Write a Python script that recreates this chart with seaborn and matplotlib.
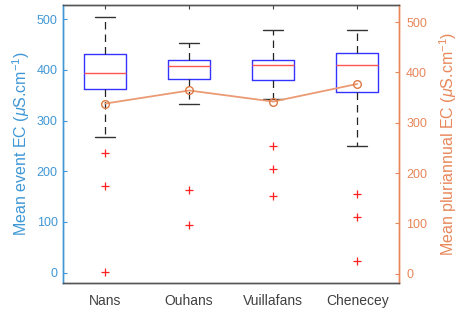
import seaborn as sns
import matplotlib.pyplot as plt
import pandas as pd

sites = ["Nans", "Ouhans", "Vuillafans", "Chenecey"]
whisker_low = [268, 333, 343, 249]
q1 = [362, 382, 379, 357]
median = [394, 407, 409, 410]
q3 = [432, 420, 420, 433]
whisker_high = [505, 453, 479, 479]
outliers = [[236, 170, 1], [163, 94], [250, 205, 151], [155, 109, 23]]
pluriannual_mean = [338, 364, 342, 377]

left_color = "#3f97d6"
right_color = "#e8875a"

sns.set_theme(style="white")
plt.rcParams["font.family"] = ["Liberation Sans", "DejaVu Sans"]
plt.rcParams["mathtext.fontset"] = "custom"
plt.rcParams["mathtext.it"] = "Liberation Sans:italic"
plt.rcParams["mathtext.rm"] = "Liberation Sans"

fig, ax = plt.subplots(figsize=(4.61, 3.09), dpi=100)
fig.subplots_adjust(left=0.137, right=0.866, top=0.984, bottom=0.085)

stats = []
for i, s in enumerate(sites):
    stats.append({"label": s, "whislo": whisker_low[i], "q1": q1[i], "med": median[i],
                  "q3": q3[i], "whishi": whisker_high[i], "fliers": outliers[i]})

ax.bxp(stats, positions=[1, 2, 3, 4], widths=0.5, showfliers=True,
       boxprops=dict(color="#3333ff", linewidth=1.0),
       medianprops=dict(color="#ff5555", linewidth=1.0),
       whiskerprops=dict(color="#222222", linestyle=(0, (6, 4)), linewidth=0.9),
       capprops=dict(color="#333333", linewidth=1.0),
       capwidths=0.24,
       flierprops=dict(marker="+", markeredgecolor="#ff2020", markersize=6, markeredgewidth=0.9))

ax.set_xlim(0.5, 4.5)
ax.set_ylim(-20, 528)
ax.set_xticks([1, 2, 3, 4])
ax.set_xticklabels(sites, fontsize=10, color="#404040")
ax.set_yticks([0, 100, 200, 300, 400, 500])
ax.tick_params(axis="y", colors=left_color, labelsize=9, direction="in", length=3, width=0.8, pad=4)
ax.tick_params(axis="x", direction="in", length=3, width=0.8, colors="#404040", top=True, pad=8)
ax.tick_params(axis="x", labelcolor="#404040")
ax.set_ylabel("Mean event EC ($\\mu$S.cm$^{-1}$)", color=left_color, fontsize=11.5, labelpad=3)

ax2 = ax.twinx()
line_df = pd.DataFrame({"pos": [1, 2, 3, 4], "ec": pluriannual_mean})
sns.lineplot(data=line_df, x="pos", y="ec", ax=ax2, color="#eb9a74", linewidth=1.3,
             marker="o", markersize=5.5, markerfacecolor="none", markeredgecolor="#e07a45",
             markeredgewidth=1.0)
ax2.set_xlim(0.5, 4.5)
ax2.set_ylim(-18, 534)
ax2.set_yticks([0, 100, 200, 300, 400, 500])
ax2.tick_params(axis="y", colors=right_color, labelsize=9, direction="in", length=3, width=0.8, pad=5)
ax2.set_ylabel("Mean pluriannual EC ($\\mu$S.cm$^{-1}$)", color=right_color, fontsize=11.5, labelpad=7)
ax2.set_xlabel("")

for a in (ax, ax2):
    a.spines["left"].set_color(left_color)
    a.spines["right"].set_color(right_color)
    a.spines["top"].set_color("#555555")
    a.spines["bottom"].set_color("#555555")
    for sp in a.spines.values():
        sp.set_linewidth(1.0)
ax.grid(False)
ax2.grid(False)

plt.savefig("out.png", dpi=100)
plt.close()
